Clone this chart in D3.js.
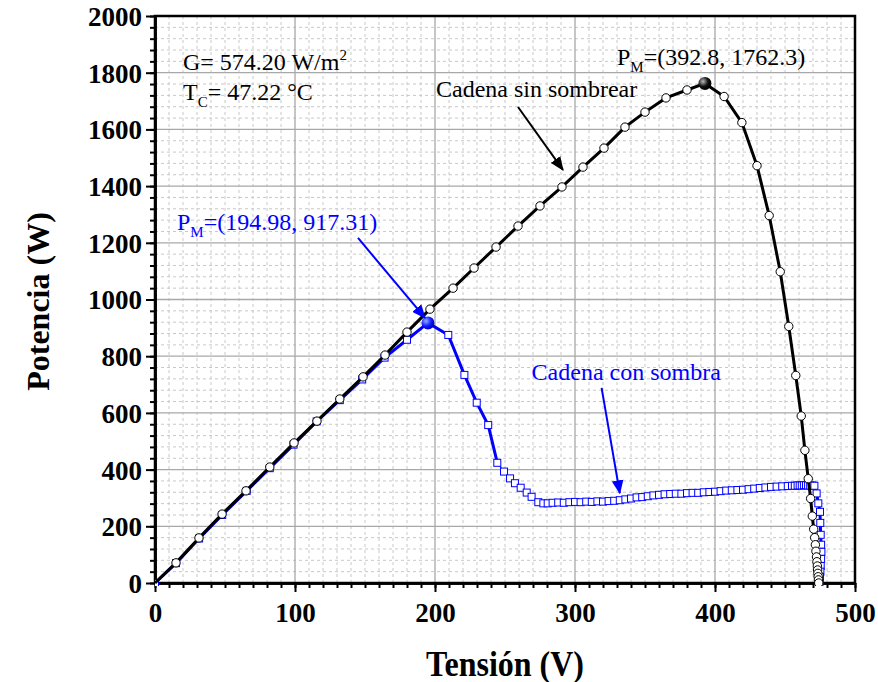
<!DOCTYPE html>
<html><head><meta charset="utf-8">
<script src="https://cdn.jsdelivr.net/npm/d3@7/dist/d3.min.js"></script>
<style>body{margin:0;background:#fff}svg{display:block}</style>
</head><body>
<svg id="c" width="878" height="682"></svg>
<script>
// ---------- data ----------
const voltsSin = [0,15,31.4,47.9,65,82,99.3,115.7,132,148.6,164.3,180,196.4,212.9,227.9,243.6,259.3,275,290.7,305.7,320.7,335.7,350,365,380,392.8,406.5,419.2,430,438.7,446.6,452.7,457.7,461.6,464.2,466.6,468.3,469.5,470.5,471.2,471.7,472.1,472.5,472.8,473.1,473.3,473.5,473.7,473.9,474.1];
const powerSin = [0,71,159,243,325,409,494,571,649,727,804,885,966,1040,1111,1185,1259,1330,1397,1467,1534,1608,1661,1711,1739,1762.3,1716,1624,1472,1296,1098,905,732,589,468,368,298,236,190,160,135,112,92,75,60,46,34,22,11,0];

const voltsCon = [0,15,31.5,48,65.5,82,99,115.5,132,148,164,180,194.98,209.5,221,229.8,238,244.5,249.3,253.6,257.1,261.2,265.5,269,273.8,277.4,280.5,284,288,292,296,300,304,308,312,316,320,324,328,332,336,340,344,348,352,356,360,364,368,372,376,380,384,388,392,396,400,404,408,412,416,420,424,428,432,436,440,444,448,452,455,457,459,460.5,462,463.5,465,466.5,468,469.5,471,472.6,473.8,475,475.2,475.5,475.8,476,475.8,475.5,475.3,475,474.8,474.6];
const powerCon = [0,70,157,240,325,405,488,570,645,718,795,858,917.31,875,734,636,557,424,393,369,352,336,319,304,285,281,281,283,284,283,285,286,285,287,286,288,287,289,290,292,295,298,302,303,306,309,311,313,314,315,315,317,318,318,320,321,322,324,326,327,328,329,331,333,335,337,339,340,341,342,343,343,344,344,344,345,345,344,344,344,343,316,281,251,212,170,135,110,85,60,40,22,8,0];

const pmSin = [392.8, 1762.3];
const pmCon = [194.98, 917.31];

const xTicks = [0,100,200,300,400,500];
const yTicks = [0,200,400,600,800,1000,1200,1400,1600,1800,2000];
const xMinor = d3.range(0, 501, 10);
const yMinor = d3.range(0, 2001, 40);

const xTitle = "Tensión (V)";
const yTitle = "Potencia (W)";
const labelSin = "Cadena sin sombrear";
const labelCon = "Cadena con sombra";

// annotation anchors in data units
const arrowSin = [[259.3,1679],[291.4,1457]];
const arrowPmCon = [[145,1217],[192.9,935]];
const arrowCon = [[319,688],[332,317]];

// ---------- layout ----------
const W = 878, H = 682;
const m = {left:155, right:23, top:16, bottom:99};
const svg = d3.select("#c");
const x = d3.scaleLinear().domain([0,500]).range([m.left, W - m.right]);
const y = d3.scaleLinear().domain([0,2000]).range([H - m.bottom, m.top]);
const FONT = "'Liberation Serif','Times New Roman',serif";
const SY = 1.1;

// grid
const grid = svg.append("g");
grid.selectAll(".vm").data(xMinor.filter(v => v % 100 !== 0)).enter().append("line")
  .attr("x1", d => x(d)).attr("x2", d => x(d)).attr("y1", y(0)).attr("y2", y(2000))
  .attr("stroke", "#c8c8c8").attr("stroke-width", 1).attr("stroke-dasharray", "3,3");
grid.selectAll(".hm").data(yMinor.filter(v => v % 200 !== 0)).enter().append("line")
  .attr("y1", d => y(d)).attr("y2", d => y(d)).attr("x1", x(0)).attr("x2", x(500))
  .attr("stroke", "#c8c8c8").attr("stroke-width", 1).attr("stroke-dasharray", "3,3");
grid.selectAll(".vM").data(xTicks.slice(1, -1)).enter().append("line")
  .attr("x1", d => x(d)).attr("x2", d => x(d)).attr("y1", y(0)).attr("y2", y(2000))
  .attr("stroke", "#a8a8a8").attr("stroke-width", 1.3);
grid.selectAll(".hM").data(yTicks.slice(1, -1)).enter().append("line")
  .attr("y1", d => y(d)).attr("y2", d => y(d)).attr("x1", x(0)).attr("x2", x(500))
  .attr("stroke", "#a8a8a8").attr("stroke-width", 1.3);

// axes
const fmt = d3.format("d");
const axX = svg.append("g").attr("transform", `translate(0,${y(0)})`)
  .call(d3.axisBottom(x).tickValues(xMinor).tickFormat("").tickSize(5).tickSizeOuter(0));
const axX2 = svg.append("g").attr("transform", `translate(0,${y(0)})`)
  .call(d3.axisBottom(x).tickValues(xTicks).tickFormat(fmt).tickSize(9).tickSizeOuter(0).tickPadding(4));
const axY = svg.append("g").attr("transform", `translate(${x(0)},0)`)
  .call(d3.axisLeft(y).tickValues(yMinor).tickFormat("").tickSize(5).tickSizeOuter(0));
const axY2 = svg.append("g").attr("transform", `translate(${x(0)},0)`)
  .call(d3.axisLeft(y).tickValues(yTicks).tickFormat(fmt).tickSize(9).tickSizeOuter(0).tickPadding(4));
[axX, axX2, axY, axY2].forEach(a => {
  a.selectAll("line").attr("stroke", "#000").attr("stroke-width", 2);
  a.select(".domain").attr("stroke", "#000").attr("stroke-width", 2.5);
});
axX2.selectAll("text").attr("font-family", FONT).attr("font-weight", "bold")
  .attr("font-size", 27).attr("fill", "#000").attr("dy", "0.95em");
axY2.selectAll("text").attr("font-family", FONT).attr("font-weight", "bold")
  .attr("font-size", 27).attr("fill", "#000").attr("dy", "0.35em");

// frame
svg.append("rect").attr("x", x(0)).attr("y", y(2000)).attr("width", x(500) - x(0))
  .attr("height", y(0) - y(2000)).attr("fill", "none").attr("stroke", "#000").attr("stroke-width", 2.5);

// axis titles
svg.append("text").attr("transform", `translate(${(x(0)+x(500))/2},${H-6}) scale(1,${SY})`)
  .attr("text-anchor", "middle").attr("font-family", FONT).attr("font-weight", "bold")
  .attr("font-size", 32).text(xTitle);
svg.append("text").attr("transform", `translate(49,${(y(0)+y(2000))/2 + 2}) rotate(-90)`)
  .attr("text-anchor", "middle").attr("font-family", FONT).attr("font-weight", "bold")
  .attr("font-size", 32).text(yTitle);

// defs
const defs = svg.append("defs");
const gk = defs.append("radialGradient").attr("id", "gk").attr("cx", "35%").attr("cy", "35%").attr("r", "65%");
gk.append("stop").attr("offset", "0%").attr("stop-color", "#bbb");
gk.append("stop").attr("offset", "60%").attr("stop-color", "#111");
gk.append("stop").attr("offset", "100%").attr("stop-color", "#000");
const gb = defs.append("radialGradient").attr("id", "gb").attr("cx", "35%").attr("cy", "35%").attr("r", "65%");
gb.append("stop").attr("offset", "0%").attr("stop-color", "#99aaff");
gb.append("stop").attr("offset", "60%").attr("stop-color", "#1020ff");
gb.append("stop").attr("offset", "100%").attr("stop-color", "#0000cc");
defs.append("marker").attr("id", "ak").attr("viewBox", "0 0 12 10").attr("refX", 11).attr("refY", 5)
  .attr("markerWidth", 14).attr("markerHeight", 12).attr("markerUnits", "userSpaceOnUse")
  .attr("orient", "auto").append("path").attr("d", "M0,0 L12,5 L0,10 z").attr("fill", "#000");
defs.append("marker").attr("id", "ab").attr("viewBox", "0 0 12 10").attr("refX", 11).attr("refY", 5)
  .attr("markerWidth", 14).attr("markerHeight", 12).attr("markerUnits", "userSpaceOnUse")
  .attr("orient", "auto").append("path").attr("d", "M0,0 L12,5 L0,10 z").attr("fill", "#0000ff");

const clip = defs.append("clipPath").attr("id", "clip");
clip.append("rect").attr("x", x(0)).attr("y", y(2000)).attr("width", x(500)-x(0)).attr("height", y(0)-y(2000)+3);

// series
const sin = voltsSin.map((v, i) => ({v, p: powerSin[i]}));
const con = voltsCon.map((v, i) => ({v, p: powerCon[i]}));
const line = d3.line().x(d => x(d.v)).y(d => y(d.p));
const plot = svg.append("g").attr("clip-path", "url(#clip)");

// blue: thin full line, thick on steep parts
plot.append("path").datum(con).attr("d", line).attr("fill", "none").attr("stroke", "#0000ff").attr("stroke-width", 1.2);
plot.append("path").datum(con.filter(d => d.v <= 245)).attr("d", line).attr("fill", "none")
  .attr("stroke", "#0000ff").attr("stroke-width", 3);
plot.append("path").datum(con.slice(con.findIndex(d => d.v >= 455))).attr("d", line).attr("fill", "none")
  .attr("stroke", "#0000ff").attr("stroke-width", 3);
plot.selectAll(".sq").data(con.filter(d => d.v !== pmCon[0])).enter().append("rect")
  .attr("x", d => x(d.v) - 3.5).attr("y", d => y(d.p) - 3.5).attr("width", 7).attr("height", 7)
  .attr("fill", "#fff").attr("stroke", "#0000ff").attr("stroke-width", 1);

// black
plot.append("path").datum(sin).attr("d", line).attr("fill", "none").attr("stroke", "#000").attr("stroke-width", 3);
plot.selectAll(".ci").data(sin.filter(d => d.v !== pmSin[0] && d.v > 0)).enter().append("circle")
  .attr("cx", d => x(d.v)).attr("cy", d => y(d.p)).attr("r", 4.2)
  .attr("fill", "#fff").attr("stroke", "#000").attr("stroke-width", 1);

// maxima
svg.append("circle").attr("cx", x(pmSin[0])).attr("cy", y(pmSin[1])).attr("r", 6.5).attr("fill", "url(#gk)");
svg.append("circle").attr("cx", x(pmCon[0])).attr("cy", y(pmCon[1])).attr("r", 6.5).attr("fill", "url(#gb)");

// annotations
function txt(vx, py, color, size) {
  return svg.append("text").attr("x", x(vx)).attr("y", y(py)).attr("font-family", FONT)
    .attr("font-size", size).attr("fill", color);
}
const t1 = txt(20, 1810, "#000", 24); t1.append("tspan").text("G= 574.20 W/m");
t1.append("tspan").attr("font-size", 15).attr("dy", -10).text("2");
const t2 = txt(20, 1704, "#000", 24); t2.append("tspan").text("T");
t2.append("tspan").attr("font-size", 15).attr("dy", 7).text("C");
t2.append("tspan").attr("dy", -7).text("= 47.22 °C");
const t3 = txt(330, 1827, "#000", 24); t3.append("tspan").text("P");
t3.append("tspan").attr("font-size", 15).attr("dy", 7).text("M");
t3.append("tspan").attr("dy", -7).text("=(" + pmSin[0] + ", " + pmSin[1] + ")");
txt(200.7, 1714, "#000", 24).text(labelSin);
const t4 = txt(15.7, 1245, "#0000ff", 24); t4.append("tspan").text("P");
t4.append("tspan").attr("font-size", 15).attr("dy", 7).text("M");
t4.append("tspan").attr("dy", -7).text("=(" + pmCon[0] + ", " + pmCon[1] + ")");
txt(269, 716, "#0000ff", 24).text(labelCon);

function arrow(a, color, id) {
  svg.append("line").attr("x1", x(a[0][0])).attr("y1", y(a[0][1])).attr("x2", x(a[1][0])).attr("y2", y(a[1][1]))
    .attr("stroke", color).attr("stroke-width", 2).attr("marker-end", `url(#${id})`);
}
arrow(arrowSin, "#000", "ak");
arrow(arrowPmCon, "#0000ff", "ab");
arrow(arrowCon, "#0000ff", "ab");
</script>
</body></html>
